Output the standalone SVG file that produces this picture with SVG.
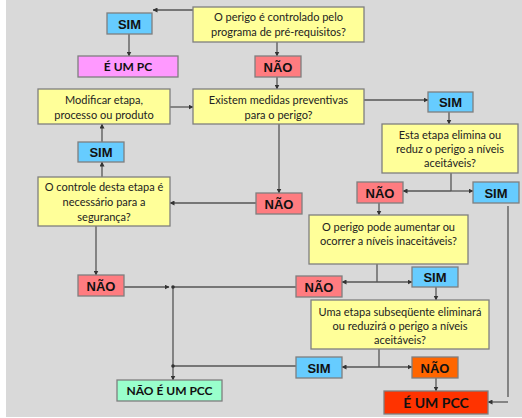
<svg xmlns="http://www.w3.org/2000/svg" width="522" height="418" viewBox="0 0 522 418">
  <defs>
    <marker id="ah" viewBox="0 0 10 10" refX="9" refY="5" markerWidth="5" markerHeight="5" orient="auto" markerUnits="userSpaceOnUse">
      <path d="M0,0 L10,5 L0,10 z" fill="#333"/>
    </marker>
  </defs>
  <style>
    .box { stroke: #7f7f7f; stroke-width: 1.3; }
    .q { fill: #ffff99; }
    .sim { fill: #66ccff; }
    .nao { fill: #ff7c80; }
    .t { font-family: Lato, "Open Sans", sans-serif; font-size: 11px; fill: #222; text-anchor: middle; }
    .b { font-family: "Liberation Sans", Arial, sans-serif; font-weight: bold; font-size: 13px; fill: #111; text-anchor: middle; }
    .r { font-family: Lato, "Open Sans", sans-serif; font-weight: bold; font-size: 12px; fill: #111; text-anchor: middle; }
    .c { fill: none; stroke: #555; stroke-width: 1.3; }
    .a { marker-end: url(#ah); }
  </style>

  <rect x="0" y="0" width="522" height="418" fill="#ffffff"/>
  <rect x="6" y="0" width="516" height="417" fill="#d9d9d9"/>

  <!-- connectors -->
  <g id="connectors">
    <path class="c a" d="M193,10 H153"/>
    <path class="c a" d="M129,34 V56"/>
    <path class="c a" d="M277,42 V56"/>
    <path class="c a" d="M277,77 V89"/>
    <path class="c a" d="M170,107 H193"/>
    <path class="c a" d="M364,100 H428"/>
    <path class="c a" d="M449,112 V124"/>
    <path class="c" d="M451,173 V191"/>
    <path class="c a" d="M451,191 H403"/>
    <path class="c a" d="M451,191 H473"/>
    <path class="c a" d="M379,203 V215"/>
    <path class="c" d="M508,206 V397"/>
    <path class="c a" d="M508,402 H488"/>
    <path class="c a" d="M279,124 V193"/>
    <path class="c a" d="M256,203 H170"/>
    <path class="c a" d="M102,177 V162"/>
    <path class="c a" d="M102,142 V124"/>
    <path class="c a" d="M96,226 V275"/>
    <path class="c a" d="M124,287 H169"/>
    <path class="c" d="M296,287 H173 V366"/>
    <path class="c a" d="M173,366 V380"/>
    <path class="c" d="M377,264 V282"/>
    <path class="c a" d="M377,282 H342"/>
    <path class="c a" d="M377,282 H412"/>
    <path class="c a" d="M436,287 V300"/>
    <path class="c" d="M379,349 V367"/>
    <path class="c a" d="M379,367 H342"/>
    <path class="c a" d="M379,367 H412"/>
    <path class="c" d="M296,366 H173"/>
    <path class="c a" d="M436,378 V391"/>
    <circle cx="173" cy="287" r="1.8" fill="#333"/>
    <circle cx="173" cy="366" r="1.8" fill="#333"/>
  </g>

  <g id="q-prerequisitos">
    <rect class="box q" x="193" y="7" width="171" height="35"/>
    <text class="t" x="278.5" y="21">O perigo é controlado pelo</text>
    <text class="t" x="278.5" y="36">programa de pré-requisitos?</text>
  </g>
  <g id="sim-pc">
    <rect class="box sim" x="107" y="13" width="45" height="21"/>
    <text class="b" x="129.5" y="28.5">SIM</text>
  </g>
  <g id="e-um-pc">
    <rect class="box" fill="#ff99ff" x="78" y="56" width="100" height="21"/>
    <text class="r" x="128" y="71">É UM PC</text>
  </g>
  <g id="nao-prerequisitos">
    <rect class="box nao" x="255" y="56" width="46" height="21"/>
    <text class="b" x="278" y="71.5">NÃO</text>
  </g>
  <g id="modificar">
    <rect class="box q" x="38" y="89" width="132" height="35"/>
    <text class="t" x="104" y="104">Modificar etapa,</text>
    <text class="t" x="104" y="119">processo ou produto</text>
  </g>
  <g id="q-medidas">
    <rect class="box q" x="193" y="89" width="171" height="35"/>
    <text class="t" x="278.5" y="104">Existem medidas preventivas</text>
    <text class="t" x="278.5" y="119">para o perigo?</text>
  </g>
  <g id="sim-medidas">
    <rect class="box sim" x="428" y="92" width="45" height="20"/>
    <text class="b" x="450.5" y="107">SIM</text>
  </g>
  <g id="q-elimina">
    <rect class="box q" x="382" y="124" width="136" height="49"/>
    <text class="t" x="450" y="139">Esta etapa elimina ou</text>
    <text class="t" x="450" y="153">reduz o perigo a níveis</text>
    <text class="t" x="450" y="167">aceitáveis?</text>
  </g>
  <g id="nao-elimina">
    <rect class="box nao" x="357" y="182" width="46" height="21"/>
    <text class="b" x="380" y="197.5">NÃO</text>
  </g>
  <g id="sim-elimina">
    <rect class="box sim" x="473" y="182" width="46" height="21"/>
    <text class="b" x="496" y="197.5">SIM</text>
  </g>
  <g id="nao-medidas">
    <rect class="box nao" x="256" y="193" width="46" height="21"/>
    <text class="b" x="279" y="208.5">NÃO</text>
  </g>
  <g id="sim-controle">
    <rect class="box sim" x="78" y="142" width="46" height="20"/>
    <text class="b" x="101" y="157">SIM</text>
  </g>
  <g id="q-controle">
    <rect class="box q" x="38" y="177" width="132" height="49"/>
    <text class="t" x="104" y="191">O controle desta etapa é</text>
    <text class="t" x="104" y="206">necessário para a</text>
    <text class="t" x="104" y="221">segurança?</text>
  </g>
  <g id="q-aumentar">
    <rect class="box q" x="309" y="215" width="159" height="49"/>
    <text class="t" x="388.5" y="231">O perigo pode aumentar ou</text>
    <text class="t" x="388.5" y="245">ocorrer a níveis inaceitáveis?</text>
  </g>
  <g id="nao-controle">
    <rect class="box nao" x="78" y="275" width="46" height="21"/>
    <text class="b" x="101" y="290.5">NÃO</text>
  </g>
  <g id="nao-aumentar">
    <rect class="box nao" x="296" y="276" width="46" height="21"/>
    <text class="b" x="319" y="291.5">NÃO</text>
  </g>
  <g id="sim-aumentar">
    <rect class="box sim" x="412" y="267" width="46" height="20"/>
    <text class="b" x="435" y="282">SIM</text>
  </g>
  <g id="q-subsequente">
    <rect class="box q" x="311" y="300" width="178" height="49"/>
    <text class="t" x="400" y="316">Uma etapa subseqüente eliminará</text>
    <text class="t" x="400" y="330">ou reduzirá o perigo a níveis</text>
    <text class="t" x="400" y="344">aceitáveis?</text>
  </g>
  <g id="sim-subsequente">
    <rect class="box sim" x="296" y="357" width="46" height="21"/>
    <text class="b" x="319" y="372.5">SIM</text>
  </g>
  <g id="nao-subsequente">
    <rect class="box" fill="#ff6600" x="412" y="357" width="46" height="21"/>
    <text class="b" x="435" y="372.5">NÃO</text>
  </g>
  <g id="nao-e-pcc">
    <rect class="box" fill="#99ffcc" x="117" y="380" width="105" height="21"/>
    <text class="r" x="169.5" y="395">NÃO É UM PCC</text>
  </g>
  <g id="e-pcc">
    <rect class="box" fill="#ff3300" x="384" y="391" width="104" height="23"/>
    <text class="r" x="436" y="407.5" style="font-size:14px">É UM PCC</text>
  </g>
</svg>
